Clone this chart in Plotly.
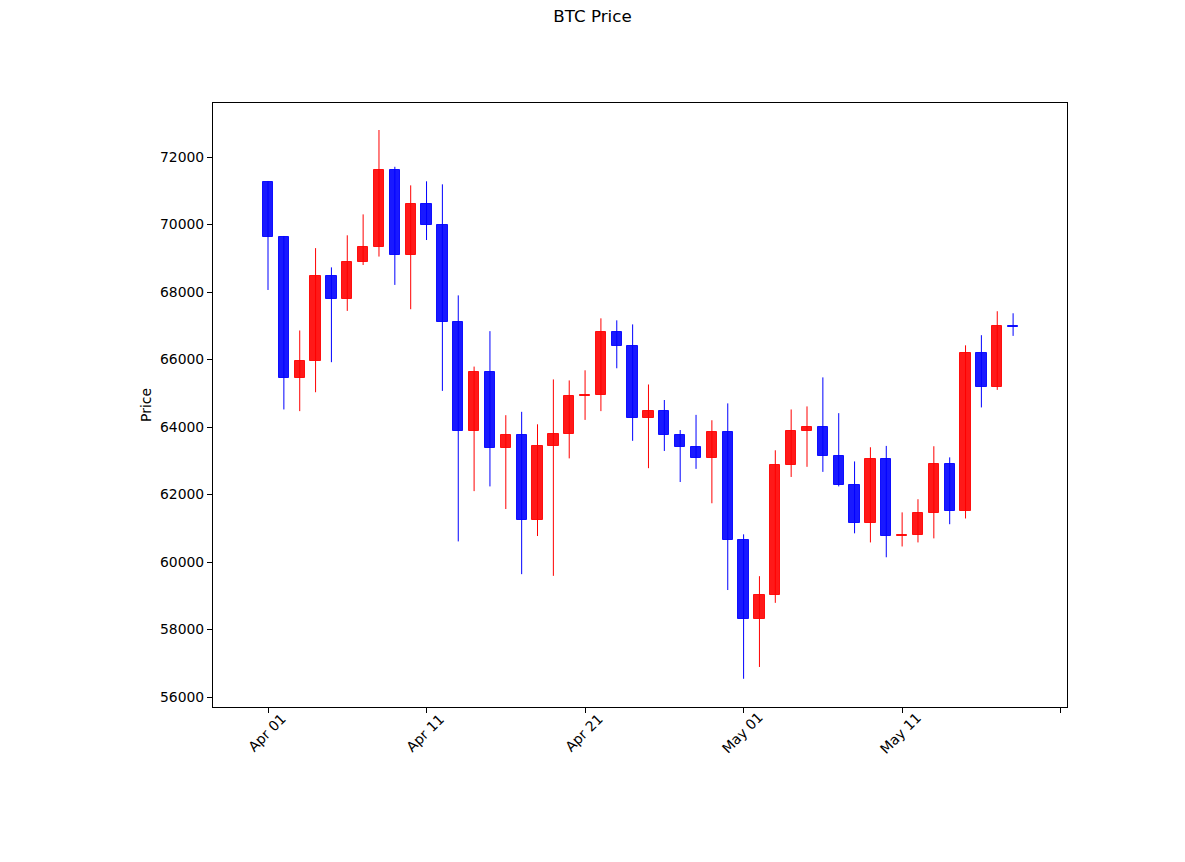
import pandas as pd
import plotly.graph_objects as go

dates = pd.date_range("2024-04-01", periods=48, freq="D")
opens = [71260, 69630, 65450, 65960, 68480, 67780, 68880, 69330, 71620, 69110,
         70610, 69980, 67100, 63890, 65630, 63390, 63770, 61230, 63440, 63790,
         64920, 64950, 66820, 66400, 64260, 64470, 63760, 63420, 63090, 63850,
         60640, 58320, 59020, 62880, 63880, 64000, 63140, 62270, 61150, 63050,
         60760, 60800, 61450, 62910, 61520, 66200, 65200, 67000]
highs = [71290, 69660, 66860, 69300, 68730, 69680, 70300, 72800, 71710, 71160,
         71280, 71190, 67900, 65790, 66840, 64350, 64450, 64080, 65410, 65380,
         65680, 67220, 67160, 67040, 65260, 64800, 63910, 64360, 64200, 64700,
         60820, 59580, 63310, 64520, 64610, 65470, 64410, 62980, 63400, 63440,
         61470, 61860, 63430, 63100, 66420, 66720, 67430, 67370]
lows = [68060, 64520, 64470, 65030, 65920, 67440, 68800, 69050, 68210, 67490,
        69540, 65070, 60610, 62100, 62240, 61570, 59640, 60770, 59590, 63070,
        64210, 64470, 65740, 63590, 62780, 63290, 62370, 62760, 61740, 59170,
        56540, 56890, 58790, 62520, 62820, 62670, 62240, 60850, 60580, 60140,
        60460, 60580, 60700, 61120, 61290, 64580, 65100, 66700]
closes = [69630, 65450, 65960, 68480, 67780, 68880, 69330, 71620, 69110, 70610,
          69980, 67100, 63890, 65630, 63390, 63770, 61230, 63440, 63790, 64920,
          64950, 66820, 66400, 64260, 64470, 63760, 63420, 63090, 63850, 60640,
          58320, 59020, 62880, 63880, 64000, 63140, 62270, 61150, 63050, 60760,
          60800, 61450, 62910, 61520, 66200, 65200, 67000, 66960]

tick_dates = ["2024-04-01", "2024-04-11", "2024-04-21", "2024-05-01", "2024-05-11", "2024-05-21"]
tick_labels = ["Apr 01", "Apr 11", "Apr 21", "May 01", "May 11", ""]
y_ticks = [56000, 58000, 60000, 62000, 64000, 66000, 68000, 70000, 72000]

UP_WICK, DOWN_WICK = "red", "blue"
UP_BODY, DOWN_BODY = "rgba(255,0,0,0.9)", "rgba(0,0,255,0.9)"
DAY_MS = 86400000
BODY_W = 0.65 * DAY_MS
FS = 13.9

fig = go.Figure()

for is_up, wick_c, body_c in [(True, UP_WICK, UP_BODY), (False, DOWN_WICK, DOWN_BODY)]:
    wx, wy, bx, bbase, bh = [], [], [], [], []
    for d, o, h, l, c in zip(dates, opens, highs, lows, closes):
        if (c >= o) != is_up:
            continue
        wx += [d, d, None]
        wy += [l, h, None]
        bx.append(d)
        bbase.append(min(o, c))
        bh.append(abs(c - o))
    fig.add_trace(go.Scatter(x=wx, y=wy, mode="lines",
                             line=dict(color=wick_c, width=1),
                             hoverinfo="skip", showlegend=False))
    fig.add_trace(go.Bar(x=bx, y=bh, base=bbase, width=BODY_W,
                         marker=dict(color=body_c, line=dict(color=body_c, width=1)),
                         showlegend=False))

# x tick labels centred on ticks (rotated 45 degrees)
for td, tl in zip(tick_dates, tick_labels):
    if tl:
        fig.add_annotation(x=td, y=-26 / 604, xref="x", yref="paper", text=tl,
                           showarrow=False, textangle=-45, xanchor="center",
                           yanchor="middle", xshift=-1.5,
                           font=dict(family="DejaVu Sans", size=FS, color="black"))

fig.update_layout(
    width=1185, height=862,
    margin=dict(l=213, r=118, t=103, b=155),
    paper_bgcolor="white", plot_bgcolor="white",
    font=dict(family="DejaVu Sans", size=FS, color="black"),
    barmode="overlay", bargap=0,
    title=dict(text="BTC Price", x=0.5, xanchor="center", y=1 - 16 / 862,
               yanchor="middle", yref="container", font=dict(size=16.7)),
    xaxis=dict(type="date",
               range=[pd.Timestamp("2024-04-01") - pd.Timedelta(days=3.47),
                      pd.Timestamp("2024-04-01") + pd.Timedelta(days=50.4)],
               tickvals=tick_dates, showticklabels=False,
               showgrid=False, zeroline=False, showline=True, linecolor="black",
               linewidth=1, mirror=True, ticks="outside", ticklen=5,
               tickcolor="black"),
    yaxis=dict(range=[55704, 73600], tickvals=y_ticks,
               ticktext=[str(v) for v in y_ticks],
               showgrid=False, zeroline=False, showline=True, linecolor="black",
               linewidth=1, mirror=True, ticks="outside", ticklen=5,
               tickcolor="black",
               title=dict(text="Price", standoff=5, font=dict(size=FS))),
)

fig.write_html("out.html")
